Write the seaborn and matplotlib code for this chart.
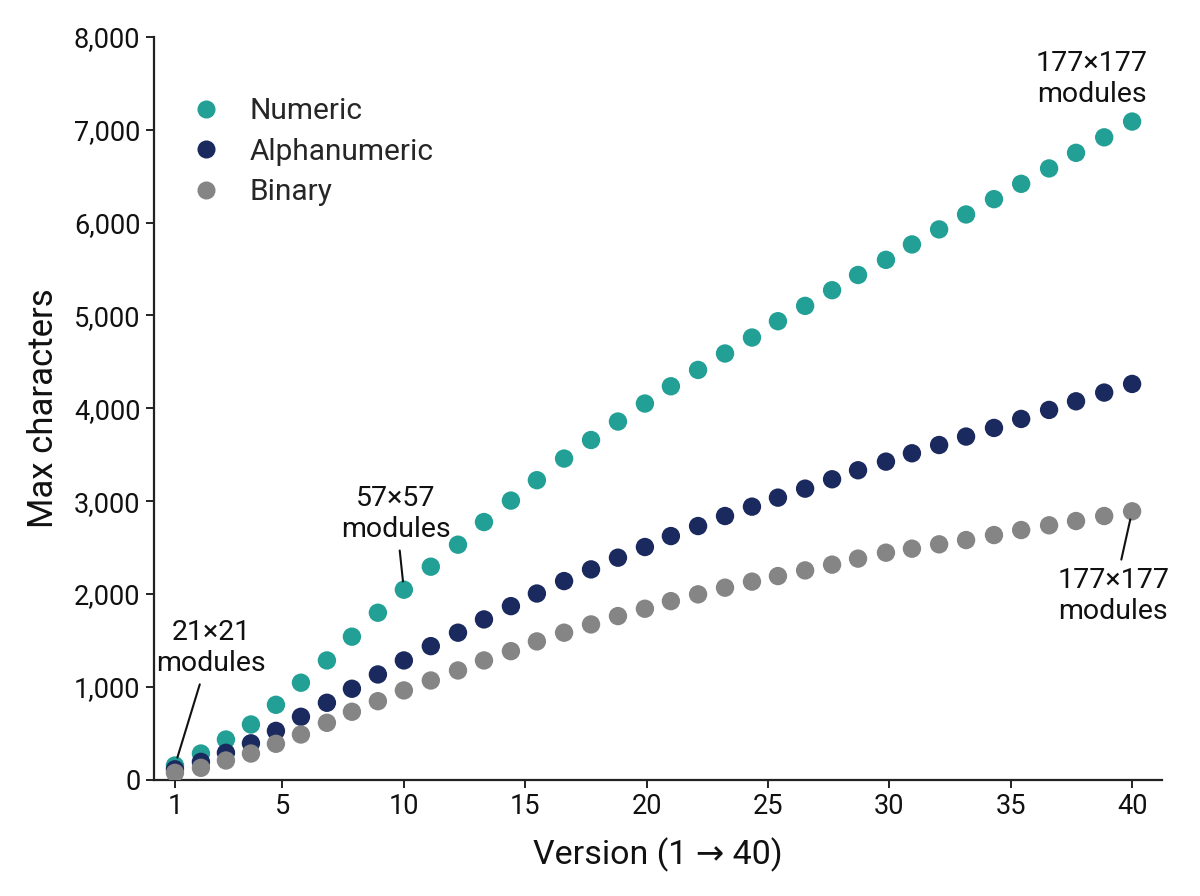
import matplotlib
matplotlib.use("Agg")
import matplotlib.pyplot as plt
import seaborn as sns
import pandas as pd
from matplotlib.lines import Line2D

# ---- data ----
versions = [0.57, 1.64, 2.67, 3.70, 4.73, 5.76, 6.83, 7.86, 8.93, 10.0,
            11.11, 12.23, 13.30, 14.41, 15.48, 16.60, 17.71, 18.82, 19.93, 21.0,
            22.12, 23.23, 24.34, 25.41, 26.53, 27.64, 28.71, 29.86, 30.93, 32.05,
            33.16, 34.31, 35.43, 36.58, 37.69, 38.85, 40.0]
numeric = [151, 280, 431, 593, 805, 1043, 1283, 1539, 1797, 2045,
           2293, 2530, 2774, 3005, 3225, 3458, 3658, 3857, 4051, 4237,
           4413, 4590, 4762, 4938, 5103, 5272, 5436, 5599, 5765, 5927,
           6088, 6253, 6418, 6584, 6752, 6919, 7089]
alphanumeric = [110, 190, 288, 390, 524, 676, 827, 978, 1132, 1283,
                1437, 1582, 1725, 1868, 2004, 2138, 2264, 2390, 2505, 2623,
                2731, 2839, 2940, 3037, 3134, 3235, 3332, 3425, 3515, 3604,
                3695, 3788, 3885, 3982, 4075, 4169, 4262]
binary = [72, 126, 205, 280, 385, 485, 611, 730, 844, 960,
          1067, 1175, 1283, 1383, 1488, 1582, 1671, 1761, 1840, 1922,
          1995, 2067, 2132, 2192, 2253, 2315, 2380, 2444, 2487, 2534,
          2580, 2634, 2688, 2739, 2785, 2839, 2890]
series_names = ["Numeric", "Alphanumeric", "Binary"]
colors = ["#22a096", "#1b2a5e", "#858585"]
xtick_labels = ["1", "5", "10", "15", "20", "25", "30", "35", "40"]
ytick_values = [0, 1000, 2000, 3000, 4000, 5000, 6000, 7000, 8000]

df = pd.DataFrame({
    "version": versions * 3,
    "chars": numeric + alphanumeric + binary,
    "mode": [series_names[0]] * len(numeric) + [series_names[1]] * len(alphanumeric)
            + [series_names[2]] * len(binary),
})

sns.set_theme(style="ticks")
plt.rcParams["font.family"] = ["Roboto", "DejaVu Sans"]

fig = plt.figure(figsize=(12, 8.96), dpi=100)
ax = fig.add_axes([0.1286, 0.130, 0.8395, 0.8287])

sns.scatterplot(data=df, x="version", y="chars", hue="mode",
                palette=dict(zip(series_names, colors)), s=175,
                linewidth=0, ax=ax, legend=False, zorder=3)

ax.set_xlim(-0.28, 41.22)
ax.set_ylim(0, 8000)
ax.set_xticks([versions[0], 5, 10, 15, 20, 25, 30, 35, 40])
ax.set_xticklabels(xtick_labels)
ax.set_yticks(ytick_values)
ax.set_yticklabels([f"{v:,}" for v in ytick_values])
ax.tick_params(axis="both", labelsize=19.5, length=6, width=1.4, color="#222222",
               labelcolor="#111111", pad=4)
for side in ["top", "right"]:
    ax.spines[side].set_visible(False)
for side in ["left", "bottom"]:
    ax.spines[side].set_linewidth(1.6)
    ax.spines[side].set_color("#222222")

ax.set_xlabel("Version (1 \u2192 40)", fontsize=24.5, color="#111111", labelpad=12)
ax.set_ylabel("Max characters", fontsize=25, color="#111111", labelpad=10)

handles = [Line2D([0], [0], marker="o", linestyle="", markersize=13,
                  markerfacecolor=c, markeredgewidth=0) for c in colors]
ax.legend(handles, series_names, loc="upper left", bbox_to_anchor=(0.025, 0.935),
          frameon=False, fontsize=21.5, handlelength=1.0, handletextpad=0.95,
          labelspacing=0.42, borderaxespad=0)

ann_kw = dict(ha="center", va="center", fontsize=20.5, color="#111111",
              linespacing=1.2)
arrow = dict(arrowstyle="-", color="#111111", lw=1.5, shrinkA=3, shrinkB=6)
ax.annotate("21\u00d721\nmodules", xy=(versions[0], numeric[0]),
            xytext=(2.05, 1417), arrowprops=arrow, **ann_kw)
ax.annotate("57\u00d757\nmodules", xy=(versions[9], numeric[9]),
            xytext=(9.67, 2861), arrowprops=arrow, **ann_kw)
ax.annotate("177\u00d7177\nmodules", xy=(versions[-1], numeric[-1]),
            xytext=(38.35, 7548), **ann_kw)
ax.annotate("177\u00d7177\nmodules", xy=(versions[-1], binary[-1]),
            xytext=(39.22, 1977), arrowprops=arrow, **ann_kw)

fig.savefig("out.png", dpi=100)
